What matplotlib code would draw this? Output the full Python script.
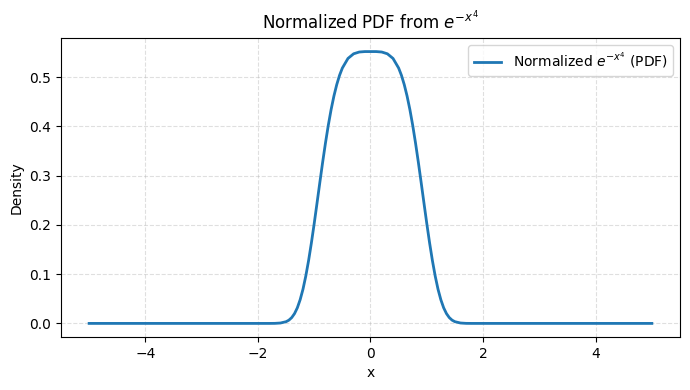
import matplotlib
matplotlib.use("Agg")
from matplotlib import pyplot as plt

# values (symmetric around 0)
x_vals = [-5.0, -4.0, -3.0, -2.0, -1.8, -1.7, -1.6, -1.5, -1.45, -1.4, -1.35, -1.3,
          -1.25, -1.2, -1.15, -1.1, -1.05, -1.0, -0.95, -0.9, -0.85, -0.8, -0.75,
          -0.7, -0.65, -0.6, -0.55, -0.5, -0.4, -0.3, -0.2, -0.1, 0.0,
          0.1, 0.2, 0.3, 0.4, 0.5, 0.55, 0.6, 0.65, 0.7, 0.75, 0.8, 0.85, 0.9,
          0.95, 1.0, 1.05, 1.1, 1.15, 1.2, 1.25, 1.3, 1.35, 1.4, 1.45, 1.5, 1.6,
          1.7, 1.8, 2.0, 3.0, 4.0, 5.0]
density = [0.0, 0.0, 0.0, 0.0, 0.0, 0.0001, 0.0008, 0.0035, 0.0066, 0.0118, 0.0199, 0.0317,
           0.0481, 0.0693, 0.0960, 0.1276, 0.1636, 0.2029, 0.2443, 0.2862, 0.3273, 0.3662, 0.4020,
           0.4339, 0.4614, 0.4845, 0.5034, 0.5182, 0.5377, 0.5471, 0.5507, 0.5516, 0.5516,
           0.5516, 0.5507, 0.5471, 0.5377, 0.5182, 0.5034, 0.4845, 0.4614, 0.4339, 0.4020, 0.3662, 0.3273, 0.2862,
           0.2443, 0.2029, 0.1636, 0.1276, 0.0960, 0.0693, 0.0481, 0.0317, 0.0199, 0.0118, 0.0066, 0.0035, 0.0008,
           0.0001, 0.0, 0.0, 0.0, 0.0, 0.0]

fig, ax = plt.subplots(figsize=(6.9, 3.9), dpi=100)
ax.plot(x_vals, density, linewidth=2, label=r"Normalized $e^{-x^4}$ (PDF)")

ax.set_title(r"Normalized PDF from $e^{-x^4}$")
ax.set_xlabel("x")
ax.set_ylabel("Density")
ax.grid(True, linestyle="--", alpha=0.4)
ax.legend()

fig.subplots_adjust(left=0.0884, right=0.9855, top=0.9026, bottom=0.1359)
fig.savefig("out.png")
